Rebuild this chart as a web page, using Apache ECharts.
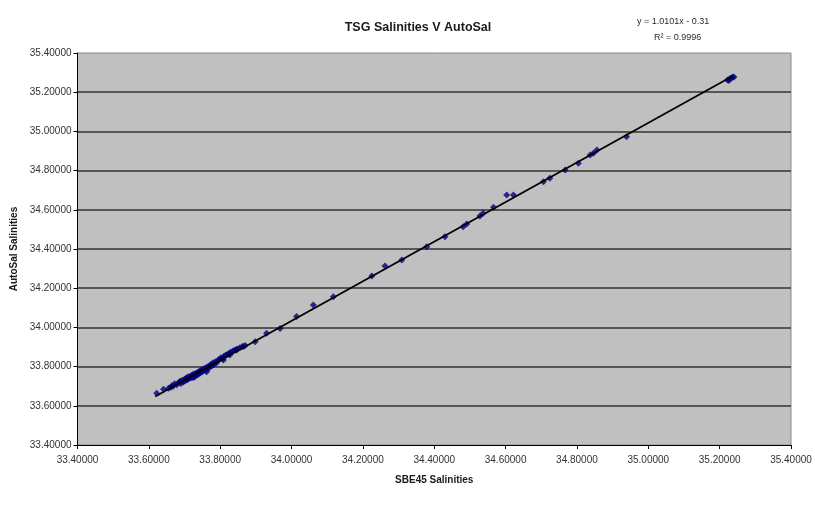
<!DOCTYPE html>
<html>
<head>
<meta charset="utf-8">
<script src="https://cdn.jsdelivr.net/npm/echarts@6/dist/echarts.min.js"></script>
<style>html,body{margin:0;padding:0;background:#fff}#c{width:815px;height:520px}</style>
</head>
<body>
<div id="c"></div>
<script>
// Axis ticks
var xTicks = [33.4, 33.6, 33.8, 34.0, 34.2, 34.4, 34.6, 34.8, 35.0, 35.2, 35.4];
var yTicks = [33.4, 33.6, 33.8, 34.0, 34.2, 34.4, 34.6, 34.8, 35.0, 35.2, 35.4];

// SBE45 (x) salinities
var sbe45 = [
  33.622, 33.641, 33.655, 33.662, 33.664, 33.668, 33.672, 33.678, 33.683, 33.687,
  33.688, 33.690, 33.694, 33.697, 33.700, 33.702, 33.705, 33.706, 33.708, 33.710,
  33.712, 33.715, 33.717, 33.720, 33.722, 33.724, 33.725, 33.727, 33.729, 33.731,
  33.734, 33.736, 33.738, 33.741, 33.743, 33.745, 33.748, 33.750, 33.753, 33.756,
  33.758, 33.761, 33.762, 33.764, 33.767, 33.770, 33.773, 33.776, 33.779, 33.782,
  33.786, 33.790, 33.794, 33.798, 33.802, 33.806, 33.809, 33.810, 33.815, 33.820,
  33.825, 33.827, 33.830, 33.836, 33.842, 33.846, 33.848, 33.855, 33.862, 33.865,
  33.870, 33.898, 33.930, 33.968, 34.014, 34.061, 34.117, 34.225, 34.262, 34.309,
  34.379, 34.430, 34.481, 34.491, 34.528, 34.537, 34.566, 34.603, 34.622, 34.706,
  34.724, 34.767, 34.804, 34.837, 34.846, 34.856, 34.939, 35.222, 35.226, 35.228,
  35.232, 35.236, 35.240
];
// AutoSal (y) salinities
var autosal = [
  33.664, 33.684, 33.690, 33.695, 33.701, 33.700, 33.712, 33.708, 33.718, 33.723,
  33.725, 33.714, 33.730, 33.722, 33.735, 33.728, 33.742, 33.735, 33.733, 33.748,
  33.738, 33.745, 33.752, 33.743, 33.758, 33.750, 33.745, 33.762, 33.748, 33.765,
  33.757, 33.770, 33.760, 33.775, 33.766, 33.780, 33.772, 33.785, 33.777, 33.790,
  33.782, 33.796, 33.774, 33.788, 33.802, 33.795, 33.810, 33.803, 33.818, 33.810,
  33.825, 33.820, 33.832, 33.838, 33.845, 33.840, 33.834, 33.852, 33.858, 33.862,
  33.868, 33.859, 33.875, 33.880, 33.886, 33.885, 33.890, 33.896, 33.903, 33.902,
  33.908, 33.927, 33.970, 33.995, 34.055, 34.114, 34.157, 34.262, 34.313, 34.344,
  34.412, 34.463, 34.514, 34.528, 34.568, 34.582, 34.613, 34.676, 34.676, 34.743,
  34.761, 34.803, 34.837, 34.880, 34.888, 34.905, 34.973, 35.262, 35.260, 35.268,
  35.272, 35.276, 35.278
];

// Linear trendline (as printed on the chart)
var trendSlope = 1.0101;
var trendIntercept = -0.31;
var trendRange = [33.618, 35.238];
var equationText = 'y = 1.0101x - 0.31';
var r2Text = '0.9996';

var points = sbe45.map(function (x, i) { return [x, autosal[i]]; });
var trend = trendRange.map(function (x) { return [x, trendSlope * x + trendIntercept]; });

var chart = echarts.init(document.getElementById('c'), null, { renderer: 'canvas' });
var font = 'Liberation Sans, Arial, sans-serif';
chart.setOption({
  animation: false,
  backgroundColor: '#ffffff',
  title: {
    text: 'TSG Salinities V AutoSal',
    left: 413, top: 16, textAlign: 'center',
    textStyle: { fontFamily: font, fontSize: 12.5, fontWeight: 'bold', color: '#1a1a1a' }
  },
  graphic: [
    { type: 'text', left: 637, top: 17,
      style: { text: equationText, font: '9px ' + font, fill: '#2a2a2a' } },
    { type: 'text', left: 654, top: 33,
      style: { text: 'R\u00b2 = ' + r2Text, font: '9px ' + font, fill: '#2a2a2a' } }
  ],
  grid: {
    left: 77.5, right: 24, top: 53, bottom: 75,
    show: true, backgroundColor: '#c0c0c0', borderColor: '#8a8a8a', borderWidth: 1
  },
  xAxis: {
    type: 'value', min: xTicks[0], max: xTicks[xTicks.length - 1], interval: 0.2,
    name: 'SBE45 Salinities', nameLocation: 'middle', nameGap: 30,
    nameTextStyle: { fontFamily: font, fontSize: 10, fontWeight: 'bold', color: '#1a1a1a' },
    axisLine: { show: true, onZero: false, lineStyle: { color: '#000', width: 1 } },
    axisTick: { show: true, inside: false, length: 4, lineStyle: { color: '#000' } },
    axisLabel: { fontFamily: font, fontSize: 10, color: '#333', margin: 10,
      formatter: function (v) { return v.toFixed(5); } },
    splitLine: { show: false }
  },
  yAxis: {
    type: 'value', min: yTicks[0], max: yTicks[yTicks.length - 1], interval: 0.2,
    name: 'AutoSal Salinities', nameLocation: 'middle', nameGap: 56, nameRotate: 90,
    nameTextStyle: { fontFamily: font, fontSize: 10, fontWeight: 'bold', color: '#1a1a1a' },
    axisLine: { show: true, onZero: false, lineStyle: { color: '#000', width: 1 } },
    axisTick: { show: true, inside: false, length: 4, lineStyle: { color: '#000' } },
    axisLabel: { fontFamily: font, fontSize: 10, color: '#333', margin: 6,
      formatter: function (v) { return v.toFixed(5); } },
    splitLine: { show: true, showMaxLine: false, showMinLine: false,
      lineStyle: { color: '#333', width: 1.5 } }
  },
  series: [
    { type: 'scatter', data: points, symbol: 'diamond', symbolSize: 7,
      itemStyle: { color: '#000080' }, z: 2 },
    { type: 'line', data: trend, showSymbol: false, symbol: 'none',
      lineStyle: { color: '#000', width: 1.8 }, z: 3, silent: true }
  ]
});
</script>
</body>
</html>
